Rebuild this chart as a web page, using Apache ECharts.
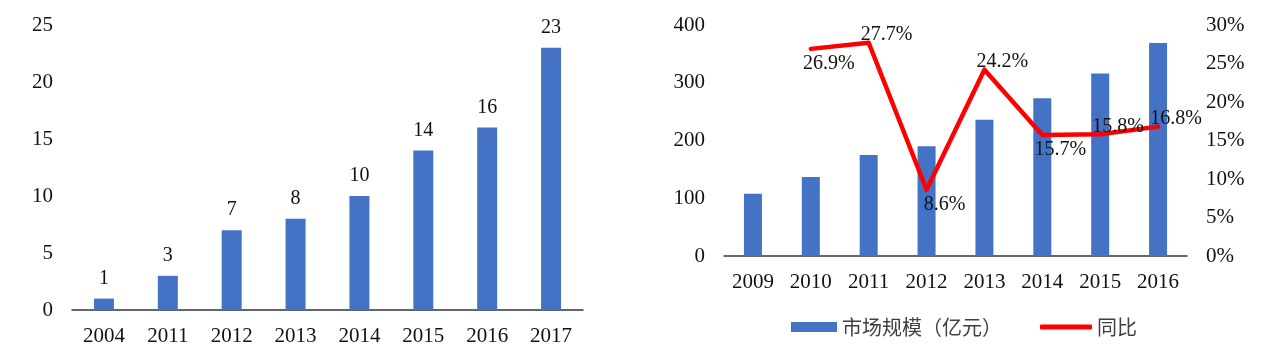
<!DOCTYPE html>
<html>
<head>
<meta charset="utf-8">
<script src="https://cdn.jsdelivr.net/npm/echarts@6/dist/echarts.min.js"></script>
<style>
html,body{margin:0;padding:0;background:#fff;}
#c{width:1268px;height:358px;}
</style>
</head>
<body>
<div id="c"></div>
<script>
// Left chart data
const leftCategories = ['2004', '2011', '2012', '2013', '2014', '2015', '2016', '2017'];
const leftValues = [1, 3, 7, 8, 10, 14, 16, 23];

// Right chart data
const rightCategories = ['2009', '2010', '2011', '2012', '2013', '2014', '2015', '2016'];
const marketSize = [108, 137, 175, 190, 236, 273, 316, 369];
const yoyGrowth = [null, 26.9, 27.7, 8.6, 24.2, 15.7, 15.8, 16.8];
const yoyLabelSide = [null, 'bottom', 'top', 'bottom', 'top', 'bottom', 'top', 'top'];

const barName = '市场规模（亿元）';
const lineName = '同比';

const SERIF = '"Liberation Serif", "Times New Roman", serif';
const CJK = '"Noto Sans CJK SC", sans-serif';
const BLUE = '#4472C4';
const RED = '#FF0000';
const AXIS_FONT = 21;

const chart = echarts.init(document.getElementById('c'), null, {renderer: 'canvas'});

const lineData = yoyGrowth.map((v, i) => {
  if (v === null) return null;
  const side = yoyLabelSide[i];
  return {
    value: v,
    label: {
      position: side,
      distance: side === 'top' ? -3 : 4,
      offset: [18, 0]
    }
  };
});

const option = {
  animation: false,
  textStyle: {fontFamily: SERIF},
  grid: [
    {left: 72, top: 25, width: 511, height: 285},
    {left: 724, top: 25, width: 463, height: 231}
  ],
  xAxis: [
    {
      gridIndex: 0, type: 'category', data: leftCategories,
      axisLine: {lineStyle: {color: '#333', width: 1.5}},
      axisTick: {show: false},
      axisLabel: {color: '#111', fontSize: AXIS_FONT, fontFamily: SERIF, margin: 16}
    },
    {
      gridIndex: 1, type: 'category', data: rightCategories,
      axisLine: {lineStyle: {color: '#333', width: 1.5}},
      axisTick: {show: false},
      axisLabel: {color: '#111', fontSize: AXIS_FONT, fontFamily: SERIF, margin: 16}
    }
  ],
  yAxis: [
    {
      gridIndex: 0, type: 'value', min: 0, max: 25, interval: 5,
      axisLine: {show: false}, axisTick: {show: false}, splitLine: {show: false},
      axisLabel: {color: '#111', fontSize: AXIS_FONT, fontFamily: SERIF, margin: 19}
    },
    {
      gridIndex: 1, type: 'value', min: 0, max: 400, interval: 100,
      axisLine: {show: false}, axisTick: {show: false}, splitLine: {show: false},
      axisLabel: {color: '#111', fontSize: AXIS_FONT, fontFamily: SERIF, margin: 19}
    },
    {
      gridIndex: 1, type: 'value', position: 'right', min: 0, max: 30, interval: 5,
      axisLine: {show: false}, axisTick: {show: false}, splitLine: {show: false},
      axisLabel: {color: '#111', fontSize: AXIS_FONT, fontFamily: SERIF, margin: 19, formatter: '{value}%'}
    }
  ],
  legend: [
    {
      data: [{name: barName, icon: 'rect'}],
      left: 791, top: 317, padding: 0,
      itemWidth: 46, itemHeight: 10,
      textStyle: {fontFamily: CJK, fontSize: 20, color: '#404040'}
    },
    {
      data: [{name: lineName, icon: 'roundRect'}],
      left: 1040, top: 317, padding: 0,
      itemWidth: 52, itemHeight: 5,
      textStyle: {fontFamily: CJK, fontSize: 20, color: '#404040'}
    }
  ],
  series: [
    {
      type: 'bar', xAxisIndex: 0, yAxisIndex: 0, data: leftValues,
      barWidth: 20, itemStyle: {color: BLUE},
      label: {show: true, position: 'top', distance: 10, color: '#111', fontSize: 20, fontFamily: SERIF}
    },
    {
      name: barName, type: 'bar', xAxisIndex: 1, yAxisIndex: 1, data: marketSize,
      barWidth: 18, itemStyle: {color: BLUE}
    },
    {
      name: lineName, type: 'line', xAxisIndex: 1, yAxisIndex: 2, data: lineData,
      symbol: 'circle', symbolSize: 1, showSymbol: true, connectNulls: false,
      z: 5,
      itemStyle: {color: RED},
      lineStyle: {color: RED, width: 4.5, join: 'round', cap: 'round'},
      label: {show: true, color: '#111', fontSize: 20, fontFamily: SERIF, formatter: '{c}%'}
    }
  ]
};
chart.setOption(option);
</script>
</body>
</html>
